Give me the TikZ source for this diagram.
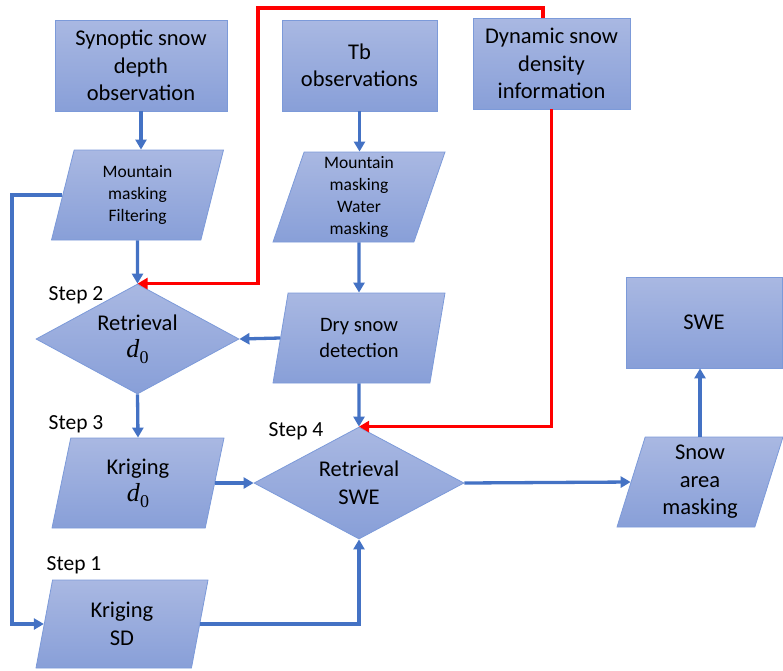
\documentclass[tikz,border=0pt]{standalone}
\usepackage{fontspec}
\setmainfont{Carlito}
\newfontfamily\symserif{Liberation Serif}
\usetikzlibrary{arrows.meta, shapes.geometric}
\definecolor{flowline}{HTML}{4472C4}
\definecolor{flowedge}{HTML}{7C9AD9}
\definecolor{flowtop}{HTML}{A9B8E2}
\definecolor{flowbot}{HTML}{889FD8}
\newcommand{\dzero}{{\symserif\fontsize{26}{27.5}\selectfont\textit{d}\raisebox{-0.22em}{\fontsize{18}{18}\selectfont 0}}}

\begin{document}
\begin{tikzpicture}[x=1pt, y=-1pt,
        big/.style={font=\fontsize{22.5}{27.5}\selectfont},
        small/.style={font=\fontsize{17.5}{22}\selectfont},
        base/.style={draw=flowedge, line width=0.8pt, top color=flowtop,
                     bottom color=flowbot, align=center, inner sep=0pt},
        databox/.style={base, big, rectangle, minimum height=91pt},
        slant/.style={base, big, trapezium, trapezium left angle=69,
                      trapezium right angle=111, trapezium stretches body,
                      minimum width=172pt, minimum height=90pt},
        decide/.style={base, big, diamond, aspect=1.85},
        steplbl/.style={font=\fontsize{21.5}{26}\selectfont},
        flow/.style={-{Triangle[length=10pt, width=11pt]}, line width=3.3pt, draw=flowline},
        redflow/.style={flow, draw=red}]
        \useasboundingbox (0,0) rectangle (783,670);
        % inputs
        \node[databox, minimum width=172pt] (syn) at (141,65.5) {Synoptic snow\\depth\\observation};
        \node[databox, minimum width=155pt] (tb) at (359.5,65.5) {Tb\\observations};
        \node[databox, minimum width=157pt] (dyn) at (551.5,63.5) {Dynamic snow\\density\\information};
        % left branch
        \node[slant, small] (mmf) at (137.5,195) {Mountain\\masking\\Filtering};
        \node[decide, minimum width=203pt, minimum height=110pt] (rd0) at (137.5,339) {Retrieval\\\dzero};
        \node[slant] (kd0) at (138,483) {Kriging\\\dzero};
        \node[slant, minimum height=88pt] (ksd) at (122,624) {Kriging\\SD};
        % middle branch
        \node[slant, small] (tbm) at (359,197) {Mountain\\masking\\Water\\masking};
        \node[slant, font=\fontsize{20.5}{26}\selectfont] (dry) at (359,338) {Dry snow\\detection};
        \node[decide, minimum width=210pt, minimum height=112pt] (rswe) at (359,483) {Retrieval\\SWE};
        % output
        \node[slant, minimum width=166pt] (sam) at (700,482) {Snow\\area\\masking};
        \node[databox, minimum width=156pt] (swe) at (704,322.5) {SWE};
        % step labels
        \node[steplbl] (s2) at (76,295) {Step 2};
        \node[steplbl] (s3) at (76,424) {Step 3};
        \node[steplbl] (s4) at (296,431.5) {Step 4};
        \node[steplbl] (s1) at (74,565) {Step 1};
        \coordinate (lft) at (12,400);
        \coordinate (rtop) at (258,8);
        \draw[flow] (syn.south) -- (syn.south |- mmf.north);
        \draw[flow] (mmf.south) -- (rd0.north);
        \draw[flow] (mmf.left side) -| (lft) |- (ksd.left side);
        \draw[flow] (tb.south) -- (tb.south |- tbm.north);
        \draw[flow] (tbm.south) -- (dry.north);
        \draw[flow] (dry.left side) -- (rd0.east);
        \draw[flow] (dry.south) -- (rswe.north);
        \draw[flow] (rd0.south) -- (kd0.north);
        \draw[flow] (kd0.right side) -- (rswe.west);
        \draw[flow] (ksd.right side) -| (rswe.south);
        \draw[flow] (rswe.east) -- (sam.left side);
        \draw[flow] (sam.north) -- (sam.north |- swe.south);
        \draw[redflow] ([xshift=-8.5pt]dyn.north) |- (rtop) |- (rd0.north);
        \draw[redflow] (dyn.south) |- (rswe.north);
      \end{tikzpicture}
\end{document}
